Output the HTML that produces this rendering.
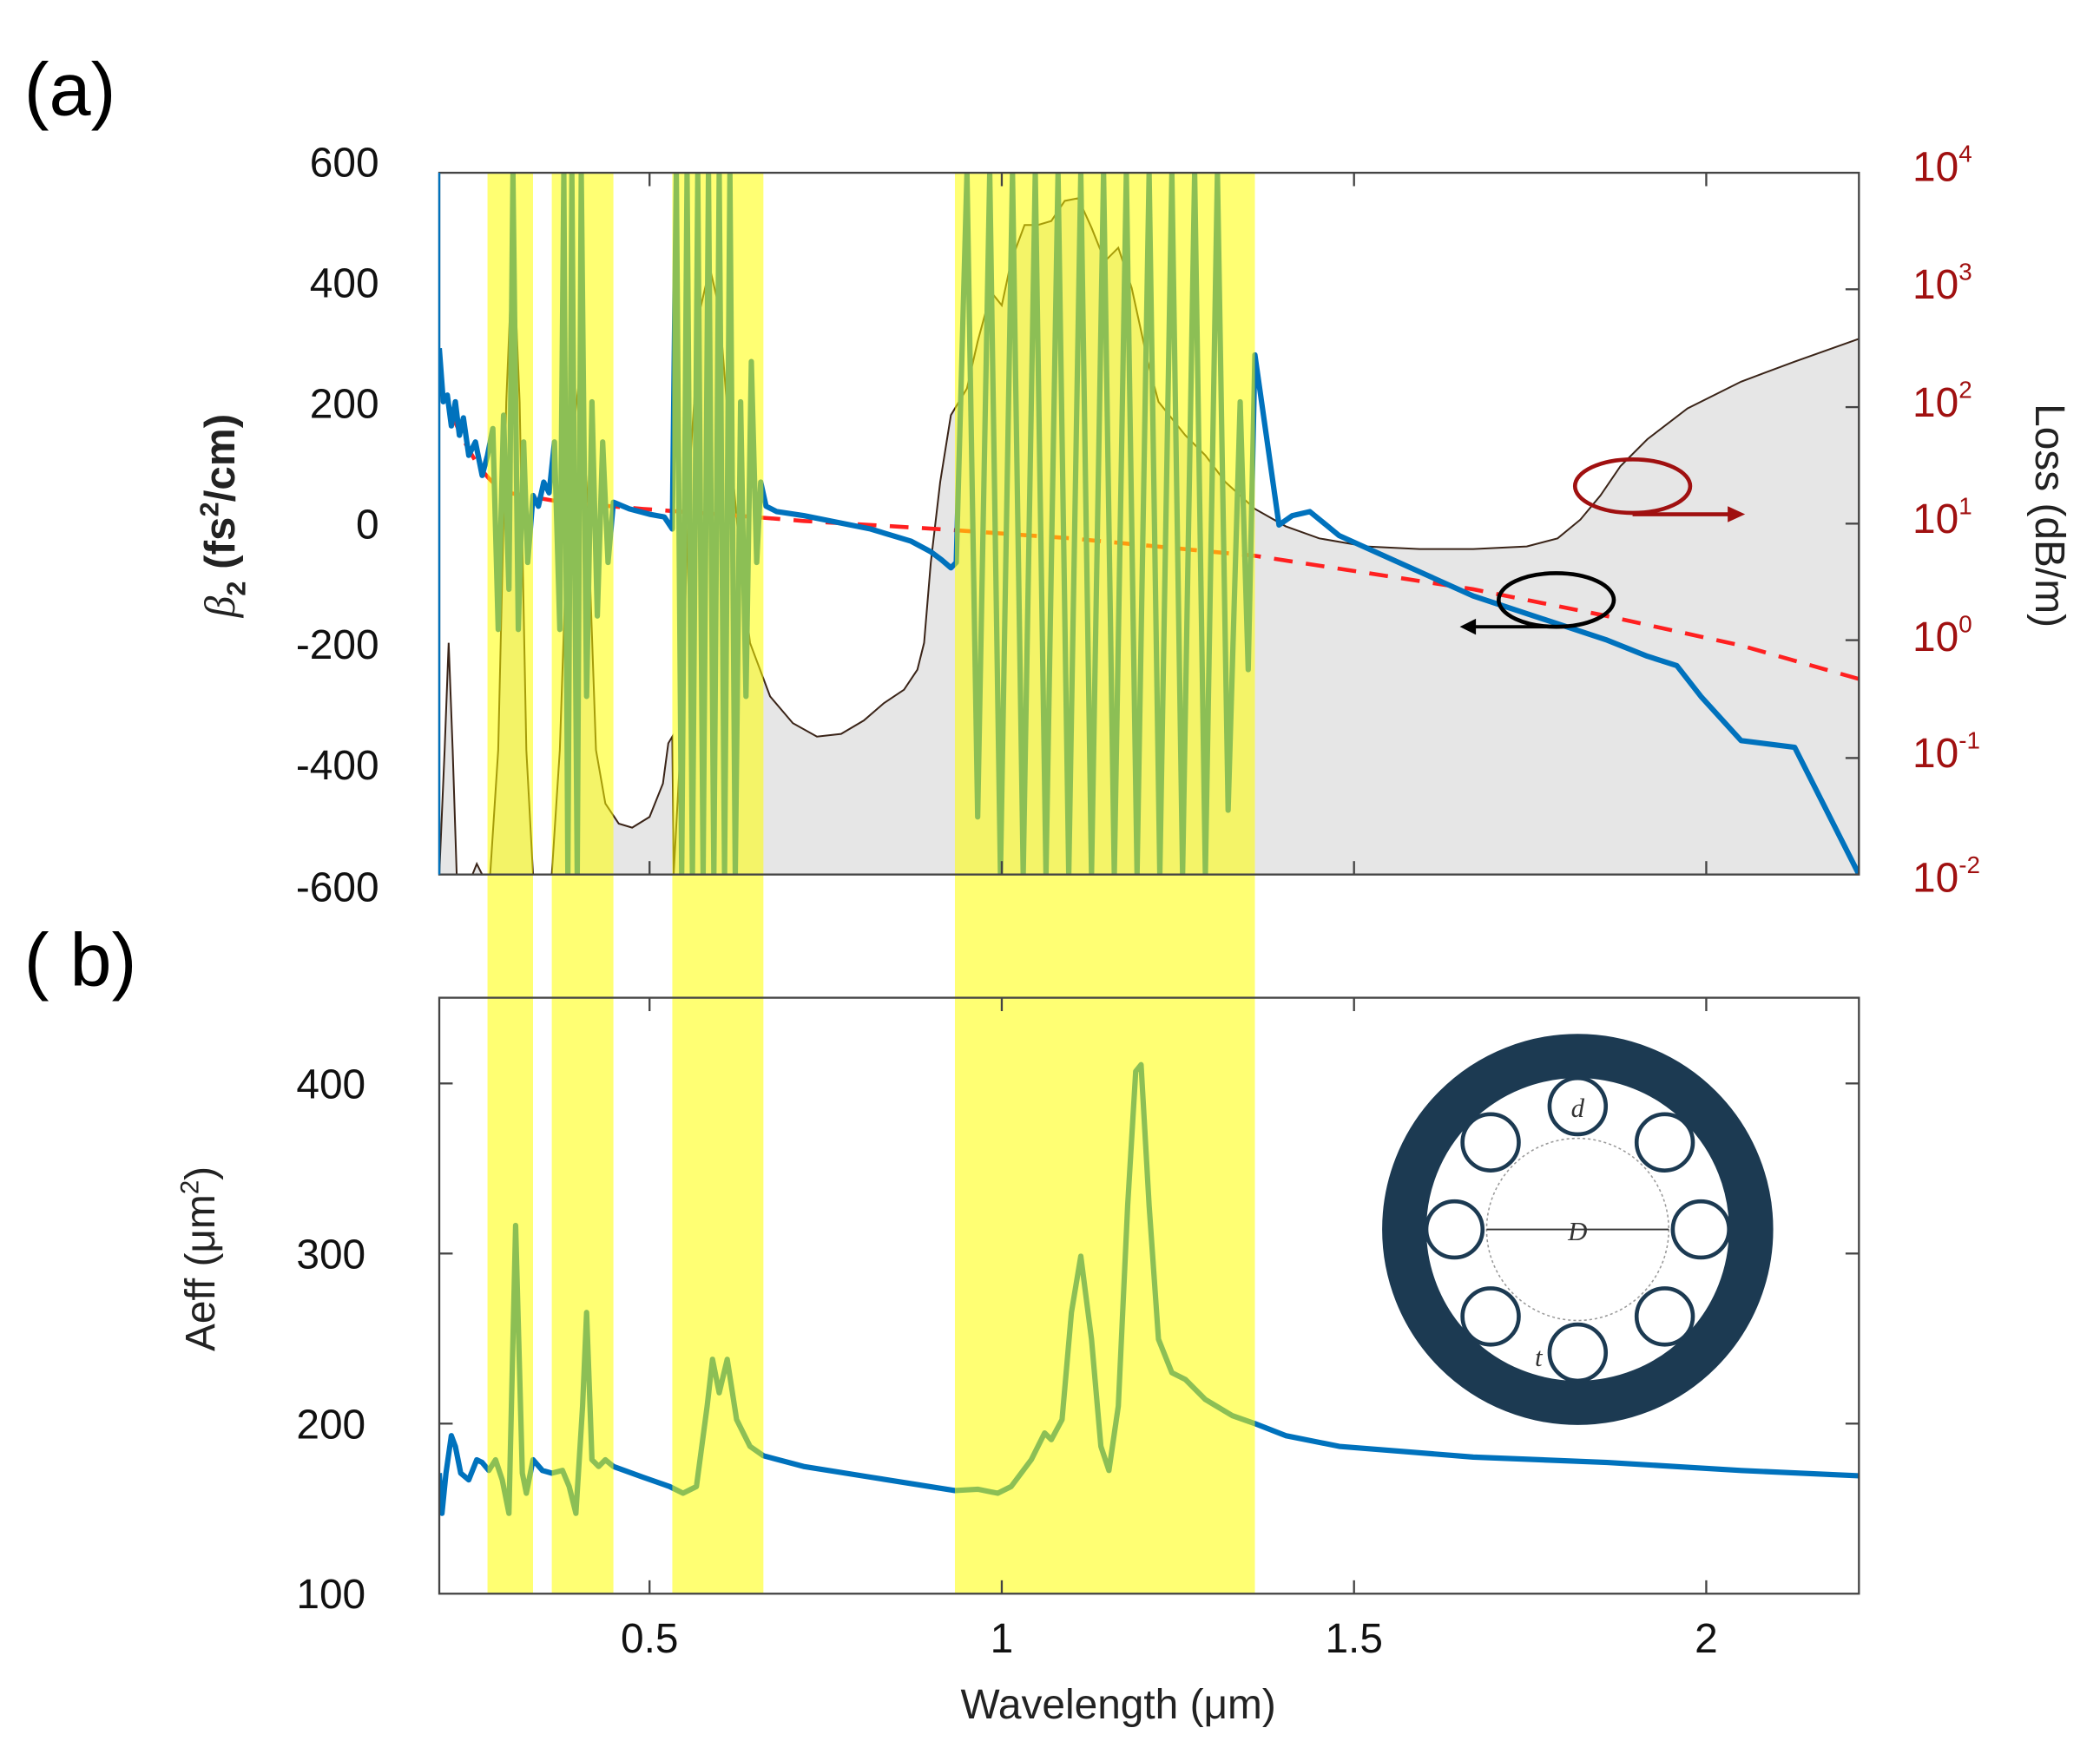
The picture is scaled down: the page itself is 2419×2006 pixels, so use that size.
<!DOCTYPE html>
<html><head><meta charset="utf-8"><style>
html,body{margin:0;padding:0;background:#fff}
svg{display:block}
text{font-family:"Liberation Sans",sans-serif}
</style></head><body>
<svg width="2419" height="2006" viewBox="0 0 1568 1300" preserveAspectRatio="none" xmlns="http://www.w3.org/2000/svg">
<rect width="1568" height="1300" fill="#fff"/>
<text x="18" y="86" font-size="56">(a)</text>
<text x="18" y="736" font-size="56">( b)</text>

<!-- panel a -->
<clipPath id="ca"><rect x="328" y="129" width="1060" height="524"/></clipPath>
<g clip-path="url(#ca)">
<path d="M328,653 L332,560 L335,480 L338,560 L341,653 L350,660 L356,645 L360,653 L366,653 L372,560 L378,300 L383,180 L388,300 L393,560 L398,653 L412,653 L418,560 L425,350 L432,287 L438,360 L445,560 L452,600 L462,615 L472,618 L485,610 L495,585 L499,555 L502,550 L503,653 L508,560 L515,350 L523,230 L530,200 L537,230 L545,330 L553,420 L560,480 L575,520 L592,540 L610,550 L628,548 L645,538 L660,525 L675,515 L685,500 L690,480 L695,420 L702,360 L710,310 L716,300 L722,290 L730,255 L740,218 L748,228 L755,195 L765,168 L775,168 L785,165 L795,150 L805,148 L815,170 L825,195 L835,185 L845,215 L857,270 L865,300 L873,310 L885,325 L900,340 L915,360 L937,380 L960,393 L985,402 L1020,408 L1060,410 L1100,410 L1140,408 L1163,402 L1180,388 L1195,370 L1210,348 L1230,328 L1260,305 L1300,285 L1340,270 L1388,253 L1388,653 L328,653 Z" fill="#e6e6e6" stroke="#3a2418" stroke-width="1.3"/>
<path d="M328,287 C345,330 360,360 380,368 L420,375 L480,380 L550,385 L600,389 L700,395 L800,402 L937,415 L1100,440 L1200,460 L1300,482 L1388,507" fill="none" stroke="#ff2020" stroke-width="3" stroke-dasharray="14,10"/>
<path d="M328,260 L331,300 L334,295 L337,318 L340,300 L343,325 L346,312 L350,340 L355,330 L360,355 L364,340 L368,320 L372,470 L376,310 L380,440 L383,129 L387,470 L391,330 L394,420 L398,370 L402,378 L406,360 L410,368 L414,330 L418,470 L421,129 L424,653 L427,129 L431,653 L434,129 L438,520 L442,300 L446,460 L450,330 L454,420 L458,375 L470,380 L485,384 L496,386 L502,395 L505,129 L509,653 L513,129 L517,653 L521,129 L525,653 L529,129 L533,653 L537,129 L541,653 L545,129 L549,653 L553,300 L557,520 L561,270 L565,420 L568,360 L572,378 L580,382 L600,385 L650,395 L680,404 L695,412 L703,418 L710,424 L714,420 L722,129 L730,610 L739,129 L747,653 L756,129 L764,653 L773,129 L781,653 L790,129 L798,653 L807,129 L815,653 L824,129 L832,653 L841,129 L849,653 L858,129 L866,653 L875,129 L883,653 L892,129 L900,653 L909,129 L917,605 L926,300 L932,500 L937,265 L955,392 L965,385 L978,382 L1000,400 L1100,445 L1200,478 L1230,490 L1252,497 L1270,520 L1300,553 L1340,558 L1388,653" fill="none" stroke="#0072BD" stroke-width="4" stroke-linejoin="round"/>
</g>
<!-- annotations -->
<ellipse cx="1219" cy="363" rx="43" ry="20" fill="none" stroke="#a01010" stroke-width="3"/>
<line x1="1219" y1="384" x2="1295" y2="384" stroke="#a01010" stroke-width="3"/>
<polygon points="1303,384 1290,378 1290,390" fill="#a01010"/>
<ellipse cx="1162" cy="448" rx="43" ry="20" fill="none" stroke="#000" stroke-width="3"/>
<line x1="1162" y1="468" x2="1098" y2="468" stroke="#000" stroke-width="2.5"/>
<polygon points="1090,468 1102,462 1102,474" fill="#000"/>

<!-- panel b -->
<clipPath id="cb"><rect x="328" y="745" width="1060" height="445"/></clipPath>
<g clip-path="url(#cb)">
<circle cx="1178" cy="918" r="129.5" fill="none" stroke="#1c3a52" stroke-width="33"/>
<circle cx="1178" cy="918" r="68" fill="none" stroke="#999" stroke-width="1" stroke-dasharray="2,2"/>
<g fill="#fff" stroke="#1c3a52" stroke-width="3">
<circle cx="1178" cy="826" r="21"/><circle cx="1243" cy="853" r="21"/><circle cx="1270" cy="918" r="21"/><circle cx="1243" cy="983" r="21"/>
<circle cx="1178" cy="1010" r="21"/><circle cx="1113" cy="983" r="21"/><circle cx="1086" cy="918" r="21"/><circle cx="1113" cy="853" r="21"/>
</g>
<line x1="1110" y1="918" x2="1246" y2="918" stroke="#333" stroke-width="1.2"/>
<text x="1178" y="926" font-size="20" font-style="italic" text-anchor="middle" fill="#333" style="font-family:'Liberation Serif',serif">D</text>
<text x="1178" y="834" font-size="20" font-style="italic" text-anchor="middle" fill="#333" style="font-family:'Liberation Serif',serif">d</text>
<text x="1146" y="1020" font-size="20" font-style="italic" fill="#333" style="font-family:'Liberation Serif',serif">t</text>
<path d="M328,1100 L330,1130 L333,1100 L337,1072 L340,1080 L344,1100 L350,1105 L356,1090 L360,1092 L365,1098 L370,1090 L375,1105 L380,1130 L385,915 L390,1100 L393,1115 L398,1090 L405,1098 L412,1100 L420,1098 L425,1110 L430,1130 L435,1050 L438,980 L442,1090 L447,1095 L452,1090 L458,1095 L480,1103 L500,1110 L510,1115 L520,1110 L528,1050 L532,1015 L537,1040 L543,1015 L550,1060 L560,1080 L570,1087 L600,1095 L650,1103 L713,1113 L730,1112 L745,1115 L755,1110 L770,1090 L780,1070 L785,1075 L793,1060 L800,980 L807,938 L815,1000 L822,1080 L828,1098 L835,1050 L842,900 L848,800 L852,795 L858,900 L865,1000 L875,1025 L885,1030 L900,1045 L920,1057 L937,1063 L960,1072 L1000,1080 L1100,1088 L1200,1092 L1300,1098 L1388,1102" fill="none" stroke="#0072BD" stroke-width="4" stroke-linejoin="round"/>
</g>

<!-- yellow bands -->
<g fill="#ffff00" opacity="0.55">
<rect x="364" y="129" width="34" height="1061"/>
<rect x="412" y="129" width="46" height="1061"/>
<rect x="502" y="129" width="68" height="1061"/>
<rect x="713" y="129" width="224" height="1061"/>
</g>

<!-- axes a -->
<rect x="328" y="129" width="1060" height="524" fill="none" stroke="#444" stroke-width="1.5"/>
<line x1="328" y1="129" x2="328" y2="653" stroke="#0072BD" stroke-width="1.5"/>
<g stroke="#444" stroke-width="1.5">
<line x1="485" y1="129" x2="485" y2="139"/><line x1="748" y1="129" x2="748" y2="139"/><line x1="1011" y1="129" x2="1011" y2="139"/><line x1="1274" y1="129" x2="1274" y2="139"/>
<line x1="485" y1="653" x2="485" y2="643"/><line x1="748" y1="653" x2="748" y2="643"/><line x1="1011" y1="653" x2="1011" y2="643"/><line x1="1274" y1="653" x2="1274" y2="643"/>
<line x1="1388" y1="216" x2="1378" y2="216"/><line x1="1388" y1="304" x2="1378" y2="304"/><line x1="1388" y1="391" x2="1378" y2="391"/><line x1="1388" y1="478" x2="1378" y2="478"/><line x1="1388" y1="566" x2="1378" y2="566"/>
</g>
<g font-size="31" text-anchor="end" fill="#111">
<text x="283" y="132">600</text><text x="283" y="222">400</text><text x="283" y="312">200</text><text x="283" y="402">0</text><text x="283" y="492">-200</text><text x="283" y="582">-400</text><text x="283" y="673">-600</text>
</g>
<g font-size="31" fill="#a01010">
<text x="1428" y="135">10<tspan font-size="18" dy="-14">4</tspan></text>
<text x="1428" y="223">10<tspan font-size="18" dy="-14">3</tspan></text>
<text x="1428" y="311">10<tspan font-size="18" dy="-14">2</tspan></text>
<text x="1428" y="398">10<tspan font-size="18" dy="-14">1</tspan></text>
<text x="1428" y="486">10<tspan font-size="18" dy="-14">0</tspan></text>
<text x="1428" y="573">10<tspan font-size="18" dy="-14">-1</tspan></text>
<text x="1428" y="666">10<tspan font-size="18" dy="-14">-2</tspan></text>
</g>
<text transform="translate(1520,385) rotate(90)" font-size="31" text-anchor="middle" fill="#222">Loss (dB/m)</text>
<text transform="translate(175,385) rotate(-90)" font-size="32" font-weight="bold" text-anchor="middle" fill="#222"><tspan font-style="italic" font-weight="normal" style="font-family:'Liberation Serif',serif">β</tspan><tspan font-size="20" dy="8">2</tspan><tspan dy="-8"> (fs</tspan><tspan font-size="20" dy="-12">2</tspan><tspan dy="12">/cm)</tspan></text>

<!-- axes b -->
<rect x="328" y="745" width="1060" height="445" fill="none" stroke="#444" stroke-width="1.5"/>
<g stroke="#444" stroke-width="1.5">
<line x1="485" y1="745" x2="485" y2="755"/><line x1="748" y1="745" x2="748" y2="755"/><line x1="1011" y1="745" x2="1011" y2="755"/><line x1="1274" y1="745" x2="1274" y2="755"/>
<line x1="485" y1="1190" x2="485" y2="1180"/><line x1="748" y1="1190" x2="748" y2="1180"/><line x1="1011" y1="1190" x2="1011" y2="1180"/><line x1="1274" y1="1190" x2="1274" y2="1180"/>
<line x1="328" y1="809" x2="338" y2="809"/><line x1="328" y1="936" x2="338" y2="936"/><line x1="328" y1="1063" x2="338" y2="1063"/>
<line x1="1388" y1="809" x2="1378" y2="809"/><line x1="1388" y1="936" x2="1378" y2="936"/><line x1="1388" y1="1063" x2="1378" y2="1063"/>
</g>
<g font-size="31" text-anchor="end" fill="#111">
<text x="273" y="820">400</text><text x="273" y="947">300</text><text x="273" y="1074">200</text><text x="273" y="1201">100</text>
</g>
<g font-size="31" text-anchor="middle" fill="#111">
<text x="485" y="1234">0.5</text><text x="748" y="1234">1</text><text x="1011" y="1234">1.5</text><text x="1274" y="1234">2</text>
</g>
<text x="835" y="1283" font-size="31" text-anchor="middle" fill="#222">Wavelength (μm)</text>
<text transform="translate(160,940) rotate(-90)" font-size="31" text-anchor="middle" fill="#222">Aeff (μm<tspan font-size="19" dy="-12">2</tspan><tspan dy="12">)</tspan></text>
</svg>
</body></html>
